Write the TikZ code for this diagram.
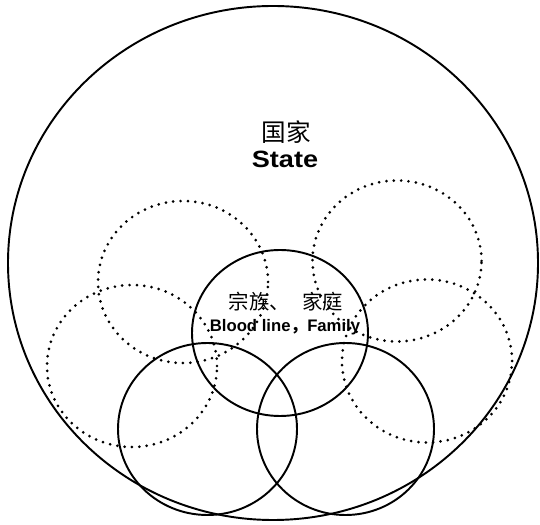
\documentclass[tikz,border=0pt]{standalone}
\usepackage{fontspec}
\setmainfont{Liberation Sans}
\newfontfamily\cjk{Noto Sans CJK SC}
\newfontfamily\statefont[FakeStretch=1.15]{Liberation Sans}
\usetikzlibrary{shapes.geometric}

\begin{document}
\begin{tikzpicture}[ring/.style={ellipse,draw,line width=1.1pt,inner sep=0pt},
  dotring/.style={ellipse,draw,line width=1.7pt,line cap=round,dash pattern=on 0pt off 4.2pt,inner sep=0pt}]
\useasboundingbox (0,0) rectangle (10.8,10.48);
\node (S) at (5.46,5.22) [ring,minimum width=106mm,minimum height=102.8mm] {};

\node (UL) at (3.66,4.84) [dotring,minimum width=34mm,minimum height=32.4mm] {};
\node (UR) at (7.94,5.26) [dotring,minimum width=33.8mm,minimum height=32.2mm] {};
\node (DL) at (2.64,3.16) [dotring,minimum width=34mm,minimum height=32.4mm] {};
\node (DR) at (8.54,3.26) [dotring,minimum width=34mm,minimum height=32.6mm] {};

\node (F) at (5.60,3.82) [ring,minimum width=35.2mm,minimum height=33.2mm] {};
\node (L) at (4.15,1.90) [ring,minimum width=35.8mm,minimum height=34.4mm] {};
\node (R) at (6.91,1.90) [ring,minimum width=35.4mm,minimum height=34.4mm] {};

\node (SC) at (5.72,7.84) {\cjk\fontsize{14pt}{15pt}\selectfont 国家};
\node (SE) at (5.70,7.12) [anchor=base] {\statefont\bfseries\fontsize{13.4pt}{14pt}\selectfont State};
\node (FC) at (5.72,4.44) {\cjk\fontsize{11.6pt}{12pt}\selectfont 宗族、\hspace{0.6em}家庭};
\node (FE) at (5.70,3.84) [anchor=base] {\bfseries\fontsize{9.5pt}{10pt}\selectfont Blood line{\cjk ，}Family};
\end{tikzpicture}
\end{document}
